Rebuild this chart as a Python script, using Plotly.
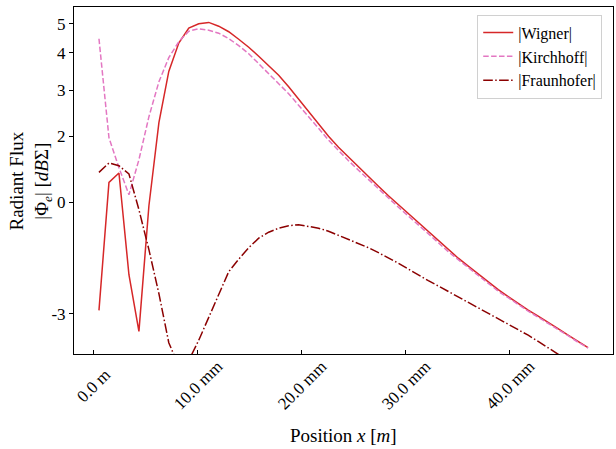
import numpy as np
import plotly.graph_objects as go

# ---------------- data (x in mm, y in dBΣ) ----------------
x_mm = [0.50, 1.46, 2.42, 3.38, 4.34, 5.30, 6.26, 7.21, 8.17, 9.13,
        10.09, 11.05, 12.01, 12.97, 13.93, 14.89, 15.85, 16.81, 17.77, 18.73,
        19.68, 20.64, 21.60, 22.56, 23.52, 24.48, 25.44, 26.40, 27.36, 28.32,
        29.28, 30.24, 31.20, 32.15, 33.11, 34.07, 35.03, 35.99, 36.95, 37.91,
        38.87, 39.83, 40.79, 41.75, 42.71, 43.67, 44.62, 45.58, 46.54, 47.50]

wigner = [-2.925, 0.594, 0.879, -2.203, -3.438, -0.112, 2.339, 3.471, 4.318, 4.847,
          5.010, 5.060, 4.914, 4.710, 4.446, 4.181, 3.901, 3.627, 3.371, 3.085,
          2.803, 2.556, 2.321, 1.994, 1.661, 1.358, 1.055, 0.767, 0.479, 0.191,
          -0.082, -0.355, -0.627, -0.900, -1.173, -1.445, -1.703, -1.945, -2.188, -2.355,
          -2.495, -2.633, -2.779, -2.922, -3.060, -3.204, -3.368, -3.541, -3.723, -3.898]

kirchhoff = [4.463, 1.948, 1.039, 0.221, 1.282, 2.450, 3.206, 3.857, 4.361, 4.729,
             4.820, 4.765, 4.657, 4.470, 4.230, 3.977, 3.683, 3.410, 3.157, 2.924,
             2.676, 2.459, 2.236, 1.873, 1.555, 1.252, 0.964, 0.676, 0.388, 0.115,
             -0.158, -0.430, -0.688, -0.961, -1.233, -1.506, -1.748, -1.991, -2.233, -2.383,
             -2.524, -2.654, -2.800, -2.944, -3.083, -3.229, -3.389, -3.555, -3.737, -3.907]

fraunhofer = [0.897, 1.182, 1.100, 0.850, -0.233, -1.445, -2.573, -3.751, -4.500, -4.300,
              -3.680, -3.095, -2.587, -2.112, -1.733, -1.385, -1.097, -0.915, -0.794, -0.718,
              -0.688, -0.733, -0.794, -0.885, -1.006, -1.127, -1.248, -1.385, -1.536, -1.688,
              -1.855, -2.036, -2.218, -2.328, -2.425, -2.528, -2.633, -2.747, -2.864, -2.985,
              -3.112, -3.249, -3.392, -3.541, -3.714, -3.901, -4.098, -4.308, -4.526, -4.754]

y_tick_values = [-3, 0, 2, 3, 4, 5]
y_tick_labels = ["-3", "0", "2", "3", "4", "5"]
x_tick_values = [0, 10, 20, 30, 40]
x_tick_labels = ["0.0 m", "10.0 mm", "20.0 mm", "30.0 mm", "40.0 mm"]
y_limits = [-4.606, 5.909]      # in symlog units
x_limits = [-1.9, 49.9]

x_title = "Position <i>x</i> [<i>m</i>]"
y_title = "Radiant Flux<br>|Φ<sub><i>e</i></sub>| [<i>dB</i>Σ]"

# ---------------- symmetric-log scale ----------------
LINTHRESH = 2.25
LOGGAIN = 3.939


def symlog(v):
    v = np.asarray(v, dtype=float)
    a = np.abs(v)
    t = np.where(a <= LINTHRESH, a, LINTHRESH + LOGGAIN * np.log(np.maximum(a, 1e-12) / LINTHRESH))
    return np.sign(v) * t


FONT = "Liberation Serif"

fig = go.Figure()
fig.add_trace(go.Scatter(x=x_mm, y=symlog(wigner), mode="lines", name="|Wigner|",
                         line=dict(color="#d62728", width=1.5)))
fig.add_trace(go.Scatter(x=x_mm, y=symlog(kirchhoff), mode="lines", name="|Kirchhoff|",
                         line=dict(color="#e377c2", width=1.5, dash="5.5px,2.4px")))
fig.add_trace(go.Scatter(x=x_mm, y=symlog(fraunhofer), mode="lines", name="|Fraunhofer|",
                         line=dict(color="#8b0000", width=1.5, dash="9.6px,2.4px,1.5px,2.4px")))

annotations = []
for v, lab in zip(x_tick_values, x_tick_labels):
    annotations.append(dict(x=v, y=-0.09, xref="x", yref="paper", text=lab, showarrow=False,
                            textangle=-45, xanchor="center", yanchor="middle",
                            font=dict(family=FONT, size=17, color="black")))
annotations.append(dict(x=0.5, y=-0.2355, xref="paper", yref="paper", text=x_title,
                        showarrow=False, xanchor="center", yanchor="middle",
                        font=dict(family=FONT, size=19, color="black")))
annotations.append(dict(x=-0.0798, y=0.5, xref="paper", yref="paper", text=y_title,
                        showarrow=False, xanchor="center", yanchor="middle", textangle=-90,
                        font=dict(family=FONT, size=19, color="black")))

fig.update_layout(
    width=616, height=449,
    margin=dict(l=74, r=3, t=7, b=95),
    paper_bgcolor="white", plot_bgcolor="white",
    font=dict(family=FONT, size=16, color="black"),
    showlegend=True,
    legend=dict(x=0.98, y=0.978, xanchor="right", yanchor="top",
                bgcolor="rgba(255,255,255,0.8)", bordercolor="#d0d0d0", borderwidth=1,
                font=dict(family=FONT, size=16, color="black"),
                tracegroupgap=0, itemwidth=30),
    annotations=annotations,
)

fig.update_xaxes(range=x_limits, tickvals=x_tick_values,
                 showticklabels=False, ticks="inside", ticklen=4, tickcolor="black",
                 showgrid=False, zeroline=False, showline=True, linecolor="black",
                 linewidth=1, mirror=True)

fig.update_yaxes(range=y_limits, tickvals=symlog(y_tick_values), ticktext=y_tick_labels,
                 ticks="outside", ticklen=4, tickcolor="black",
                 tickfont=dict(family=FONT, size=17, color="black"),
                 showgrid=False, zeroline=False, showline=True, linecolor="black",
                 linewidth=1, mirror=True)

fig.write_html("out.html")
